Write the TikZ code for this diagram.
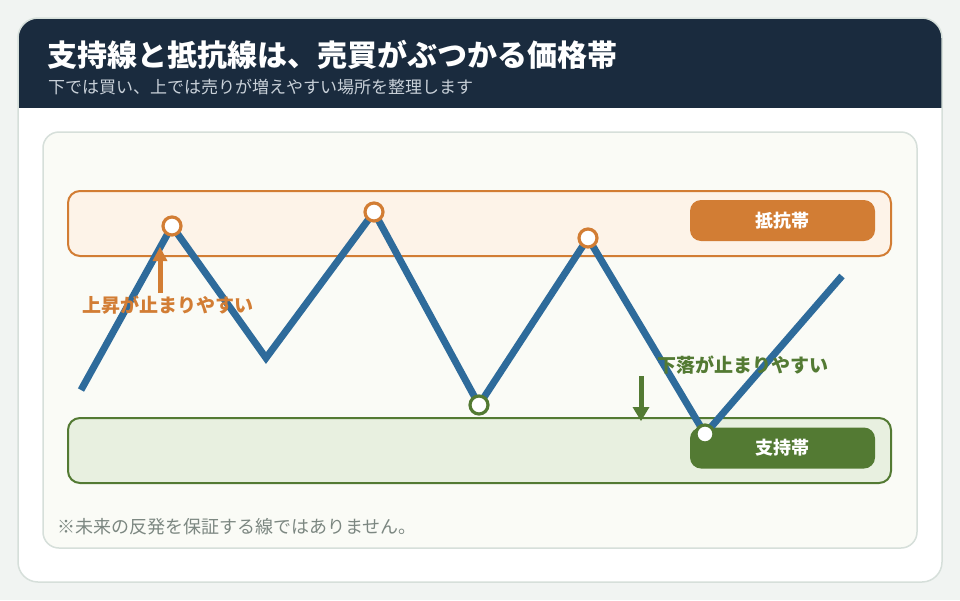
\documentclass[tikz,border=0pt]{standalone}
\usepackage{fontspec}
\setmainfont{Noto Sans CJK JP}
\usetikzlibrary{arrows.meta}
\definecolor{pagebg}{HTML}{F1F4F2}
\definecolor{cardline}{HTML}{D6DFDA}
\definecolor{navy}{HTML}{1A2B3E}
\definecolor{subgray}{HTML}{C9D1D9}
\definecolor{panelbg}{HTML}{FAFBF6}
\definecolor{lineblue}{HTML}{2E6B9B}
\definecolor{orng}{HTML}{D27D34}
\definecolor{orngbg}{HTML}{FDF3E8}
\definecolor{grn}{HTML}{537A33}
\definecolor{grnbg}{HTML}{E8F0E0}
\definecolor{notegray}{HTML}{7C8781}
\tikzset{
  band/.style={draw=#1, line width=2pt, rounded corners=12pt},
  pill/.style={fill=#1, rounded corners=11pt, minimum width=185pt, minimum height=41pt, inner sep=0pt, text=white, font=\fontsize{18}{18}\selectfont\bfseries},
  dot/.style={circle, draw=#1, fill=white, line width=3.2pt, minimum size=18pt, inner sep=0pt},
  annot/.style={text=#1, font=\fontsize{19}{19}\selectfont\bfseries, inner sep=0pt, anchor=west},
  shaft/.style={draw=#1, line width=5pt},
  headtri/.style={fill=#1},
}
\begin{document}
\begin{tikzpicture}[x=1pt,y=-1pt]
\useasboundingbox (0,0) rectangle (960,600);
\fill[pagebg] (0,0) rectangle (960,600);
% card
\fill[white] (18,18) [rounded corners=20pt] rectangle (942,582);
\begin{scope}
  \clip[rounded corners=20pt] (18,18) rectangle (942,582);
  \fill[navy] (18,18) rectangle (942,108);
\end{scope}
\draw[cardline, line width=1.5pt, rounded corners=20pt] (18,18) rectangle (942,582);
\node[anchor=west, inner sep=0pt, text=white, font=\fontsize{30}{30}\selectfont\bfseries] (title) at (47,55) {支持線と抵抗線は、売買がぶつかる価格帯};
\node[anchor=west, inner sep=0pt, text=subgray, font=\fontsize{17}{17}\selectfont] (subtitle) at (48,87) {下では買い、上では売りが増えやすい場所を整理します};
% panel
\draw[cardline, fill=panelbg, line width=1.5pt, rounded corners=16pt] (43,132) rectangle (917,548);
% bands
\draw[band=orng, fill=orngbg] (68,191) rectangle (891,256);
\draw[band=grn, fill=grnbg] (68,418) rectangle (891,483);
\node[pill=orng] (rlabel) at (782.5,220.5) {抵抗帯};
\node[pill=grn] (slabel) at (782.5,448) {支持帯};
% price path
\coordinate (p0) at (81,390);
\coordinate (p1) at (172,226);
\coordinate (p2) at (266,358);
\coordinate (p3) at (374,212);
\coordinate (p4) at (479,405);
\coordinate (p5) at (588,238);
\coordinate (p6) at (705,434);
\coordinate (p7) at (842,276);
\draw[lineblue, line width=7pt, line join=miter] (p0) -- (p1) -- (p2) -- (p3) -- (p4) -- (p5) -- (p6) -- (p7);
\node[dot=orng] (h1) at (p1) {};
\node[dot=orng] (h2) at (p3) {};
\node[dot=orng] (h3) at (p5) {};
\node[dot=grn] (l1) at (p4) {};
\node[dot=grn] (l2) at (p6) {};
% annotations
\coordinate (ua) at (160,293);
\coordinate (ub) at (160,258);
\coordinate (utip) at (160,247);
\draw[shaft=orng] (ua) -- (ub);
\fill[headtri=orng] (utip) -- ++(-7.5,14) -- ++(15,0) -- cycle;
\node[annot=orng] (uptext) at (82,305) {上昇が止まりやすい};
\coordinate (da) at (641,376);
\coordinate (db) at (641,410);
\coordinate (dtip) at (641,421);
\draw[shaft=grn] (da) -- (db);
\fill[headtri=grn] (dtip) -- ++(-8.5,-14) -- ++(17,0) -- cycle;
\node[annot=grn] (downtext) at (657,365) {下落が止まりやすい};
\node[anchor=west, inner sep=0pt, text=notegray, font=\fontsize{18}{18}\selectfont] (note) at (57,527) {※未来の反発を保証する線ではありません。};
\end{tikzpicture}
\end{document}
